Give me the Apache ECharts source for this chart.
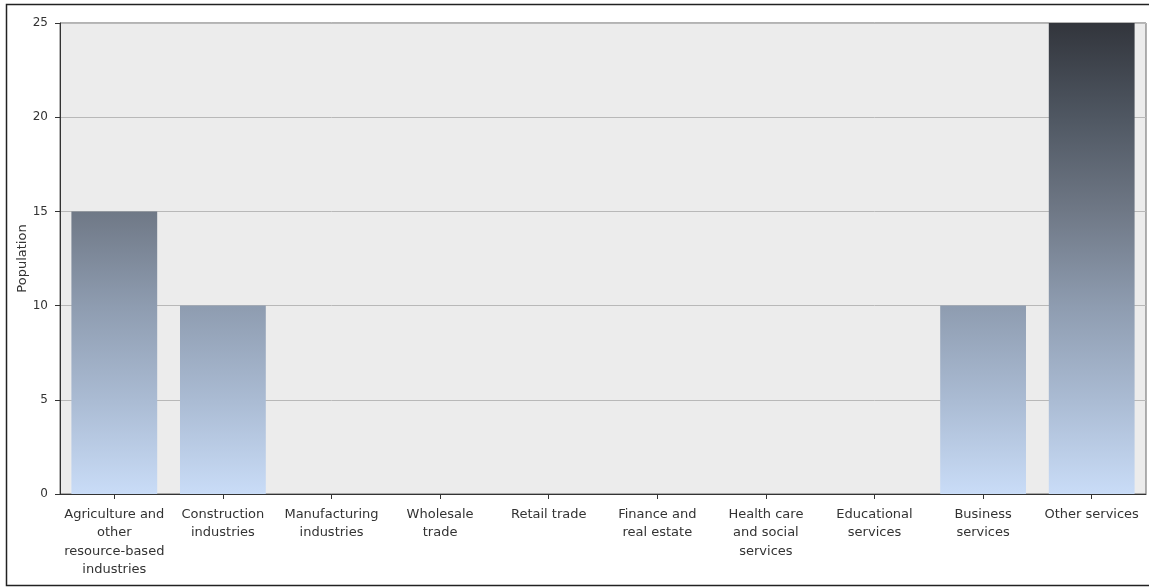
<!DOCTYPE html>
<html>
<head>
<meta charset="utf-8">
<script src="https://cdn.jsdelivr.net/npm/echarts@6/dist/echarts.min.js"></script>
<style>
html,body{margin:0;padding:0;background:#fff;}
#chart{width:1149px;height:588px;}
</style>
</head>
<body>
<div id="chart"></div>
<script>
var categories = [
  "Agriculture and\nother\nresource-based\nindustries",
  "Construction\nindustries",
  "Manufacturing\nindustries",
  "Wholesale\ntrade",
  "Retail trade",
  "Finance and\nreal estate",
  "Health care\nand social\nservices",
  "Educational\nservices",
  "Business\nservices",
  "Other services"
];
var populationValues = [15, 10, 0, 0, 0, 0, 0, 0, 10, 25];
var yTicks = [0, 5, 10, 15, 20, 25];

var chart = echarts.init(document.getElementById('chart'), null, {renderer: 'canvas'});
var FONT = 'DejaVu Sans';
var gridTop = 23, gridBottom = 94;
var plotBottomPx = 588 - gridBottom;

chart.setOption({
  animation: false,
  backgroundColor: '#ffffff',
  graphic: [{
    type: 'rect',
    shape: {x: 6.5, y: 4.5, width: 1160, height: 581},
    style: {fill: 'none', stroke: '#222', lineWidth: 1.5},
    silent: true,
    z: 0
  }],
  grid: {
    left: 60, right: 3, top: gridTop, bottom: gridBottom,
    show: true,
    backgroundColor: '#ececec',
    borderColor: '#666',
    borderWidth: 1
  },
  xAxis: {
    type: 'category',
    data: categories,
    boundaryGap: true,
    axisLine: {show: true, lineStyle: {color: '#333', width: 1}},
    axisTick: {show: true, alignWithLabel: true, length: 5, lineStyle: {color: '#333'}},
    axisLabel: {
      interval: 0,
      color: '#333',
      fontFamily: FONT,
      fontSize: 13,
      lineHeight: 18.5,
      margin: 11
    },
    splitLine: {show: false}
  },
  yAxis: {
    type: 'value',
    min: yTicks[0],
    max: yTicks[yTicks.length - 1],
    interval: 5,
    name: 'Population',
    nameLocation: 'middle',
    nameGap: 37,
    nameMoveOverlap: false,
    nameRotate: 90,
    nameTextStyle: {color: '#333', fontFamily: FONT, fontSize: 13, verticalAlign: 'middle'},
    axisLine: {show: true, lineStyle: {color: '#333', width: 1}},
    axisTick: {show: true, length: 5, lineStyle: {color: '#333'}},
    axisLabel: {color: '#333', fontFamily: FONT, fontSize: 12, margin: 12},
    splitLine: {show: true, lineStyle: {color: '#b8b8b8', width: 1}}
  },
  series: [{
    type: 'bar',
    data: populationValues,
    barCategoryGap: '21%',
    itemStyle: {
      color: {
        type: 'linear',
        global: true,
        x: 0, y: gridTop, x2: 0, y2: plotBottomPx,
        colorStops: [
          {offset: 0, color: '#32353c'},
          {offset: 0.2, color: '#4f5762'},
          {offset: 0.4, color: '#6f7886'},
          {offset: 0.6, color: '#8e9cb0'},
          {offset: 0.8, color: '#aabbd3'},
          {offset: 1, color: '#c9dcf7'}
        ]
      }
    }
  }]
});
</script>
</body>
</html>
